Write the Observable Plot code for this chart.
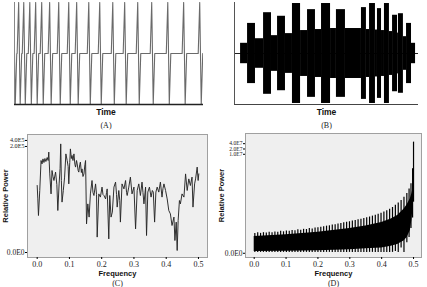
<!DOCTYPE html>
<html><head><meta charset="utf-8">
<script src="https://cdn.jsdelivr.net/npm/d3@7"></script>
<script src="https://cdn.jsdelivr.net/npm/@observablehq/plot@0.6"></script>
<style>
html,body{margin:0;padding:0;background:#fff;}
#wrap{position:relative;width:427px;height:287px;overflow:hidden;}
.panel{position:absolute;}
.panel svg{display:block;}
</style></head><body><div id="wrap"></div>
<script>
// ---------- Panel A: waveform spikes (time units 0..100)
const spikeTimesA = [0, 2.6, 5.3, 8.5, 11.6, 14.8, 19.0, 23.8, 29.1, 33.3, 39.7, 45.5, 52.4, 58.7, 65.6, 73.0, 81.5, 89.9, 98.4];
const spikeLevelsA = [0, 1, -1, 0];          // rest -> peak -> trough -> rest
const spikeOffsetsA = [-1.2, -0.4, 0.4, 1.2]; // spike shape in time units

// ---------- Panel B: amplitude segments (time units 0..100)
const segStartB = [3.3, 7.1, 11.4, 15.8, 20.1, 23.4, 27.7, 31.5, 35.9, 39.7, 44.0, 47.3, 52.2, 55.4, 60.3, 69.0, 71.7, 73.4, 76.6, 77.7, 79.9, 81.5, 84.2, 85.9, 88.6, 89.1, 91.8, 93.5, 96.2];
const segEndB   = [7.1, 11.4, 15.8, 20.1, 23.4, 27.7, 31.5, 35.9, 39.7, 44.0, 47.3, 52.2, 55.4, 60.3, 69.0, 71.7, 73.4, 76.6, 77.7, 79.9, 81.5, 84.2, 85.9, 88.6, 89.1, 91.8, 93.5, 96.2, 98.4];
const segAmpB   = [0.20, 0.59, 0.29, 0.80, 0.35, 0.73, 0.39, 0.98, 0.45, 0.86, 0.47, 0.98, 0.49, 0.86, 0.49, 0.90, 0.47, 0.98, 0.46, 0.88, 0.45, 0.98, 0.43, 0.75, 0.40, 0.78, 0.33, 0.59, 0.20];

// ---------- Panel C: periodogram, values as log10(1 + relative power)
const freqC = [0.000,0.002,0.004,0.008,0.012,0.015,0.018,0.021,0.024,0.027,0.031,0.034,0.036,0.039,0.043,0.046,0.049,0.052,0.057,0.061,0.064,0.068,0.071,0.073,0.075,0.077,0.081,0.085,0.089,0.093,0.096,0.098,0.101,0.103,0.106,0.108,0.111,0.114,0.117,0.119,0.122,0.124,0.127,0.129,0.132,0.134,0.137,0.139,0.142,0.145,0.148,0.150,0.153,0.157,0.161,0.165,0.170,0.173,0.176,0.181,0.184,0.186,0.191,0.196,0.201,0.204,0.207,0.212,0.215,0.217,0.222,0.225,0.229,0.233,0.238,0.243,0.246,0.248,0.253,0.256,0.258,0.263,0.269,0.274,0.277,0.279,0.284,0.289,0.294,0.300,0.305,0.310,0.315,0.320,0.325,0.328,0.331,0.336,0.339,0.343,0.348,0.353,0.357,0.360,0.364,0.368,0.372,0.377,0.382,0.387,0.390,0.393,0.398,0.403,0.408,0.413,0.418,0.424,0.427,0.431,0.434,0.437,0.441,0.444,0.449,0.455,0.460,0.465,0.470,0.475,0.480,0.483,0.488,0.491,0.496,0.499,0.501];
const logPowerC = [3.35,2.68,1.85,3.10,4.60,4.43,4.68,4.50,4.70,4.55,4.75,4.60,5.02,3.93,2.93,4.10,3.80,3.60,4.02,3.40,2.10,3.43,4.20,5.43,3.60,2.52,3.10,3.77,4.93,4.60,4.30,3.43,4.50,5.18,4.70,4.85,4.60,4.93,4.40,4.27,4.60,4.43,4.10,4.02,4.40,4.52,4.00,4.18,3.80,3.93,4.40,4.60,1.43,2.43,1.77,2.93,3.60,3.00,2.85,3.43,2.90,0.77,2.93,2.77,3.27,2.90,2.85,2.68,3.00,3.18,0.68,2.85,1.77,2.02,3.27,3.52,2.90,2.27,3.10,2.60,1.52,3.43,3.18,3.60,3.00,2.85,3.27,3.77,2.93,3.27,1.18,3.10,3.43,2.85,3.52,3.00,2.43,3.27,0.85,3.02,3.27,2.77,3.10,3.02,1.52,3.02,3.27,3.02,3.52,2.77,3.20,3.43,3.10,2.68,2.10,1.93,1.35,1.77,0.60,1.52,0.10,1.60,2.60,2.43,2.93,2.77,3.93,3.10,3.68,3.35,3.77,2.27,3.43,3.68,4.27,3.60,3.93];
const zeroTickC = [0];
const upperTicksC = [2e5, 4e5];
const xTicks = [0, 0.1, 0.2, 0.3, 0.4, 0.5];

// ---------- Panel D: comb spectrum, values as log10(1 + relative power / 24)
const freqTeethD = [0.002,0.011,0.020,0.029,0.038,0.047,0.056,0.065,0.074,0.083,0.092,0.101,0.110,0.119,0.128,0.137,0.146,0.155,0.164,0.173,0.182,0.191,0.200,0.209,0.218,0.227,0.236,0.245,0.254,0.263,0.272,0.281,0.290,0.299,0.308,0.317,0.326,0.335,0.344,0.353,0.362,0.371,0.380,0.389,0.398,0.407,0.416,0.425,0.434,0.443,0.452,0.461,0.470,0.479,0.486,0.492,0.497,0.500];
const topTeethD = [1.12,1.16,1.13,1.17,1.15,1.19,1.17,1.21,1.20,1.25,1.22,1.27,1.25,1.30,1.28,1.33,1.31,1.36,1.35,1.40,1.38,1.43,1.45,1.48,1.50,1.54,1.56,1.60,1.62,1.66,1.69,1.73,1.76,1.79,1.83,1.86,1.90,1.93,1.97,2.02,2.06,2.11,2.16,2.21,2.27,2.34,2.42,2.50,2.60,2.72,2.86,3.00,3.18,3.40,3.65,3.95,4.80,6.31];
const bottomTeethD = [0.05,0.05,0.05,0.05,0.05,0.05,0.05,0.05,0.05,0.05,0.05,0.05,0.05,0.05,0.05,0.05,0.05,0.05,0.05,0.05,0.05,0.05,0.05,0.05,0.05,0.05,0.05,0.05,0.05,0.05,0.05,0.05,0.05,0.05,0.05,0.05,0.05,0.05,0.05,0.05,0.05,0.05,0.05,0.05,0.05,0.05,0.05,0.05,0.05,0.10,0.05,0.30,0.05,0.60,0.90,1.40,2.00,2.90];
const freqCoreD = [0, 0.1, 0.2, 0.3, 0.35, 0.4, 0.43, 0.45, 0.47, 0.48, 0.49, 0.495, 0.5];
const coreTopD = [0.95, 1.05, 1.2, 1.4, 1.55, 1.75, 1.95, 2.15, 2.5, 2.75, 3.1, 3.4, 3.8];
const coreBottomD = [0.1, 0.12, 0.15, 0.2, 0.25, 0.3, 0.4, 0.5, 0.7, 0.9, 1.3, 1.9, 2.9];
const zeroTickD = [0];
const upperTicksD = [1e7, 2e7, 4e7];

// ---------- helpers
const toPower = (w, c) => w >= 0 ? c * (10 ** w - 1) : -c * (10 ** (-w) - 1);
const fmtE = d => d === 0 ? "0.0E0" : d.toExponential(1).replace("e+", "E");
const serif = "'Liberation Serif', 'DejaVu Serif', serif";
const sans = "'Liberation Sans', Arial, sans-serif";
const wrap = document.getElementById("wrap");
function place(svg, left, top) {
  const d = document.createElement("div");
  d.className = "panel"; d.style.left = left + "px"; d.style.top = top + "px";
  d.appendChild(svg); wrap.appendChild(d);
}

// ---------- build A
const waveA = [];
spikeTimesA.forEach(c => spikeOffsetsA.forEach((o, j) => waveA.push({t: c + o, v: spikeLevelsA[j]})));
place(Plot.plot({
  width: 213, height: 130, marginLeft: 14, marginRight: 10, marginTop: 2, marginBottom: 26,
  style: {background: "transparent", overflow: "visible"},
  x: {domain: [0, 100], axis: null}, y: {domain: [-1, 1], axis: null},
  marks: [
    Plot.line(waveA, {x: "t", y: "v", stroke: "#6a6a6a", strokeWidth: 1.1, clip: true}),
    Plot.ruleX([0], {stroke: "#888", strokeWidth: 1}),
    Plot.ruleY([-1], {stroke: "#222", strokeWidth: 1.3}),
    Plot.text(["Time"], {text: d => d, frameAnchor: "bottom", dx: -3, dy: 10, fontFamily: sans, fontWeight: "bold", fontSize: 8.5, fill: "#111"}),
    Plot.text(["(A)"], {text: d => d, frameAnchor: "bottom", dx: -3, dy: 23, fontFamily: serif, fontSize: 8, fill: "#222"})
  ]
}), 0, 0);

// ---------- build B
const segB = segStartB.map((s, i) => ({t0: s, t1: segEndB[i], a: segAmpB[i]}));
place(Plot.plot({
  width: 214, height: 130, marginLeft: 21, marginRight: 9, marginTop: 2, marginBottom: 26,
  style: {background: "transparent", overflow: "visible"},
  x: {domain: [0, 100], axis: null}, y: {domain: [-1, 1], axis: null},
  marks: [
    Plot.ruleY([0], {stroke: "#222", strokeWidth: 1}),
    Plot.rect(segB, {x1: "t0", x2: "t1", y1: d => -d.a, y2: "a", fill: "#000"}),
    Plot.ruleX([0], {stroke: "#555", strokeWidth: 1}),
    Plot.ruleY([-1], {stroke: "#444", strokeWidth: 1.2}),
    Plot.text(["Time"], {text: d => d, frameAnchor: "bottom", dy: 10, fontFamily: sans, fontWeight: "bold", fontSize: 8.5, fill: "#111"}),
    Plot.text(["(B)"], {text: d => d, frameAnchor: "bottom", dy: 23, fontFamily: serif, fontSize: 8, fill: "#222"})
  ]
}), 213, 0);

// ---------- build C
const tableC = freqC.map((f, i) => ({f, p: toPower(logPowerC[i], 1)}));
place(Plot.plot({
  width: 213, height: 157, marginLeft: 27, marginRight: 6, marginTop: 4, marginBottom: 30,
  style: {background: "transparent", overflow: "visible"},
  x: {domain: [-0.030, 0.528]},
  y: {type: "symlog", constant: 1, domain: [toPower(-0.25, 1), toPower(5.9, 1)]},
  marks: [
    Plot.frame({fill: "#efefef", stroke: "#a0a0a0"}),
    Plot.line(tableC, {x: "f", y: "p", stroke: "#262626", strokeWidth: 0.95}),
    Plot.axisY({ticks: zeroTickC, tickFormat: fmtE, tickSize: 2, tickPadding: 1, label: null, fontFamily: serif, fontSize: 7.5, fill: "#222"}),
    Plot.axisY({ticks: upperTicksC, tickFormat: fmtE, tickSize: 2, tickPadding: 1, label: null, fontFamily: serif, fontSize: 6.2, fill: "#222"}),
    Plot.axisX({ticks: xTicks, tickFormat: d => d.toFixed(1), tickSize: 2, tickPadding: 2, label: null, fontFamily: serif, fontSize: 8, fill: "#222"}),
    Plot.text(["Frequency"], {text: d => d, frameAnchor: "bottom", dy: 18.5, fontFamily: sans, fontWeight: "bold", fontSize: 7.5, fill: "#111"}),
    Plot.text(["(C)"], {text: d => d, frameAnchor: "bottom", dy: 28, fontFamily: serif, fontSize: 8, fill: "#222"}),
    Plot.text(["Relative Power"], {text: d => d, frameAnchor: "left", textAnchor: "middle", dx: -22, dy: 0, rotate: -90, fontFamily: sans, fontWeight: "bold", fontSize: 7.5, fill: "#111"})
  ]
}), 0, 130);

// ---------- build D
const teethD = freqTeethD.map((f, i) => ({f, lo: toPower(bottomTeethD[i], 24), hi: toPower(topTeethD[i], 24)}));
const coreD = freqCoreD.map((f, i) => ({f, lo: toPower(coreBottomD[i], 24), hi: toPower(coreTopD[i], 24)}));
place(Plot.plot({
  width: 214, height: 157, marginLeft: 32, marginRight: 6, marginTop: 3, marginBottom: 30,
  style: {background: "transparent", overflow: "visible"},
  x: {domain: [-0.0273, 0.525]},
  y: {type: "symlog", constant: 24, domain: [toPower(-0.24, 24), toPower(6.8, 24)]},
  marks: [
    Plot.frame({fill: "#efefef", stroke: "#a0a0a0"}),
    Plot.areaY(coreD, {x: "f", y1: "lo", y2: "hi", fill: "#000", curve: "linear"}),
    Plot.ruleX(teethD, {x: "f", y1: "lo", y2: "hi", stroke: "#000", strokeWidth: 1.2}),
    Plot.axisY({ticks: zeroTickD, tickFormat: fmtE, tickSize: 2, tickPadding: 1, label: null, fontFamily: serif, fontSize: 7.5, fill: "#222"}),
    Plot.axisY({ticks: upperTicksD, tickFormat: fmtE, tickSize: 2, tickPadding: 1, label: null, fontFamily: serif, fontSize: 5.6, fill: "#222"}),
    Plot.axisX({ticks: xTicks, tickFormat: d => d.toFixed(1), tickSize: 2, tickPadding: 2, label: null, fontFamily: serif, fontSize: 8, fill: "#222"}),
    Plot.text(["Frequency"], {text: d => d, frameAnchor: "bottom", dy: 18.5, fontFamily: sans, fontWeight: "bold", fontSize: 7.5, fill: "#111"}),
    Plot.text(["(D)"], {text: d => d, frameAnchor: "bottom", dy: 28, fontFamily: serif, fontSize: 8, fill: "#222"}),
    Plot.text(["Relative Power"], {text: d => d, frameAnchor: "left", textAnchor: "middle", dx: -24, dy: 0, rotate: -90, fontFamily: sans, fontWeight: "bold", fontSize: 7.5, fill: "#111"})
  ]
}), 213, 130);
</script></body></html>
